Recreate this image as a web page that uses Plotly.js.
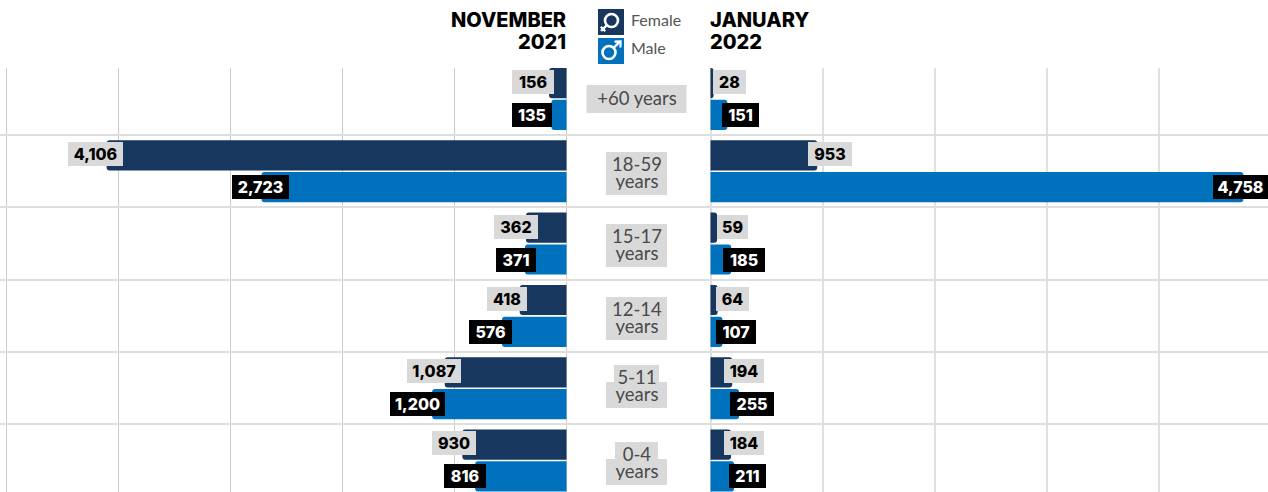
<!DOCTYPE html>
<html>
<head>
<meta charset="utf-8">
<script src="https://cdn.plot.ly/plotly-3.0.1.min.js"></script>
<style>html,body{margin:0;padding:0;background:#fff;overflow:hidden}#c{width:1268px;height:492px}</style>
</head>
<body>
<div id="c"></div>
<script>
// ---- data ----
const categories = ['+60 years','18-59 years','15-17 years','12-14 years','5-11 years','0-4 years'];
const novFemale = [156,4106,362,418,1087,930];
const novMale   = [135,2723,371,576,1200,816];
const janFemale = [28,953,59,64,194,184];
const janMale   = [151,4758,185,107,255,211];
const periodLeft = ['NOVEMBER','2021'];
const periodRight = ['JANUARY','2022'];
const legendNames = ['Female','Male'];

// ---- style ----
const W = 1268, H = 492;
const NAVY = '#17375e', BLUE = '#0071bc', CHIP = '#d9d9d9', INK = '#4a4a4a';
const FONT = 'Lato, "Open Sans", sans-serif';
const HEAVY = 'Inter, Lato, sans-serif';
// label chip nudges (px from bar end) and widths, same order as the data
const nudgeNovF = [-16,-11,-10,-12.7,-10.8,-8.3],  wNovF = [42,55,44,40,54,44];
const nudgeNovM = [-19.4,-1,-9,-11.5,-14.6,-10.1], wNovM = [40,57,40,43,55,42];
const nudgeJanF = [15.9,12.8,15.4,14.8,11.8,12.9], wJanF = [33,44,31,33,40,40];
const nudgeJanM = [13.1,-2.9,12.8,13.5,12.9,13.4], wJanM = [37,55,42,40,44,37];
// centre-column text: line centres and chip extents in px
const centreX = 636.5;
const lineY = [[99],[165,182],[237,254],[310,327],[378,395],[455,472]];
const lineW = [[100],[61,61],[61,61],[61,61],[45,61],[43,61]];
const LINE_H = 26;

const px = x => x / W, py = y => 1 - y / H;
const rect = (x0,y0,x1,y1,c) => ({type:'rect',xref:'paper',yref:'paper',x0:px(x0),x1:px(x1),y0:py(y0),y1:py(y1),fillcolor:c,line:{width:0},layer:'above'});
const poly = pts => 'M' + pts.map(p => px(p[0]) + ',' + py(p[1])).join('L');
const stroke = (pts,w) => ({type:'path',xref:'paper',yref:'paper',path:poly(pts),line:{color:'#fff',width:w},layer:'above'});
const ring = (cx,cy,r,w) => ({type:'circle',xref:'paper',yref:'paper',x0:px(cx-r),x1:px(cx+r),y0:py(cy-r),y1:py(cy+r),fillcolor:'rgba(0,0,0,0)',line:{color:'#fff',width:w},layer:'above'});

const bar = (vals,color,xa) => ({type:'bar',orientation:'h',y:categories,x:vals,xaxis:xa,yaxis:'y',
  marker:{color:color,cornerradius:3,line:{width:0}},hoverinfo:'skip',showlegend:false});
const traces = [
  bar(novFemale,NAVY,'x'), bar(novMale,BLUE,'x'),
  bar(janFemale,NAVY,'x2'), bar(janMale,BLUE,'x2'),
  {type:'scatter',mode:'none',x:categories.map(()=>0),y:categories,xaxis:'x3',yaxis:'y',hoverinfo:'skip',showlegend:false}
];

const annotations = [];
const chips = (vals,xref,nudges,widths,female) => vals.forEach((v,i) => annotations.push({
  xref:xref,yref:'y',x:v,y:categories[i],text:v.toLocaleString('en-US'),showarrow:false,
  xanchor:'center',yanchor:'middle',xshift:nudges[i],yshift:female?17:-16,
  width:widths[i],height:24,borderpad:0,borderwidth:0,align:'center',valign:'middle',
  bgcolor:female?CHIP:'#000000',
  font:{family:HEAVY,size:16,weight:800,color:female?'#000000':'#ffffff'}}));
chips(novFemale,'x',nudgeNovF,wNovF,true);
chips(novMale,'x',nudgeNovM,wNovM,false);
chips(janFemale,'x2',nudgeJanF,wJanF,true);
chips(janMale,'x2',nudgeJanM,wJanM,false);

const shapes = [];
categories.forEach((c,i) => {
  const lines = i === 0 ? [c] : c.split(' ');
  const h = i === 0 ? 28 : LINE_H;
  lines.forEach((t,k) => {
    const y = lineY[i][k], w = lineW[i][k];
    shapes.push(rect(centreX-w/2,y-h/2,centreX+w/2,y+h/2,CHIP));
  });
  lines.forEach((t,k) => {
    const two = lines.length > 1;
    const textH = two ? (k === 0 ? 15 : 19) : 24;
    annotations.push({xref:'paper',yref:'paper',x:px(centreX),y:py(lineY[i][k]-1.5),text:t,showarrow:false,
      xanchor:'center',yanchor:'middle',width:100,height:textH,borderpad:0,align:'center',valign:'middle',
      font:{family:FONT,size:18.5,weight:400,color:INK}});
  });
});

const head = (t,x,y,anchor) => annotations.push({xref:'paper',yref:'paper',x:px(x),y:py(y),text:t,showarrow:false,xanchor:anchor,yanchor:'middle',
  font:{family:HEAVY,size:20,weight:800,color:'#000'}});
head(periodLeft[0],568,20,'right'); head(periodLeft[1],568,42,'right');
head(periodRight[0],708,20,'left'); head(periodRight[1],708,42,'left');
legendNames.forEach((t,i) => annotations.push({xref:'paper',yref:'paper',x:px(629),y:py(i?47.5:19.5),text:t,showarrow:false,xanchor:'left',yanchor:'middle',
  font:{family:FONT,size:16,color:'#555'}}));

// legend icons
shapes.push(rect(598,9,624,35,NAVY), rect(598,38,624,64,BLUE));
shapes.push(ring(611.5,20.5,6.5,2.6), stroke([[606.5,25.5],[601,31]],2.4), stroke([[600.8,26.8],[605.2,31.2]],2.2));
shapes.push(ring(609,52.5,6.5,2.6), stroke([[614,47.5],[620,41.5]],2.4), stroke([[614.5,41.6],[620.6,41.4],[620.4,47.5]],2.2));

const xBase = {showticklabels:false,ticks:'',showline:false,zeroline:false,showgrid:true,
  tick0:0,dtick:1000,anchor:'y',fixedrange:true};
const layout = {
  width:W,height:H,margin:{l:0,r:0,t:0,b:0},paper_bgcolor:'#fff',plot_bgcolor:'#fff',
  barmode:'group',bargap:0.12,bargroupgap:0.05,showlegend:false,
  xaxis: Object.assign({},xBase,{gridcolor:'#cccccc',gridwidth:1.5,domain:[0,568/W],range:[566.5/0.112,-1.5/0.112]}),
  xaxis2:Object.assign({},xBase,{gridcolor:'#e0e0e0',gridwidth:2,domain:[709/W,1],range:[-1.5/0.112,(W-710.5)/0.112]}),
  xaxis3:{domain:[568/W,709/W],range:[0,1],visible:true,showticklabels:false,ticks:'',showgrid:false,zeroline:false,showline:false,anchor:'y',fixedrange:true},
  yaxis:{type:'category',categoryorder:'array',categoryarray:categories,range:[5.436,-0.436],
    domain:[0,(H-67.5)/H],tickson:'boundaries',showticklabels:false,ticks:'',showgrid:true,gridcolor:'#dedede',gridwidth:2,
    zeroline:false,showline:false,anchor:'x',fixedrange:true},
  shapes:shapes,annotations:annotations
};
Plotly.newPlot('c',traces,layout,{displayModeBar:false,staticPlot:true});
</script>
</body>
</html>
